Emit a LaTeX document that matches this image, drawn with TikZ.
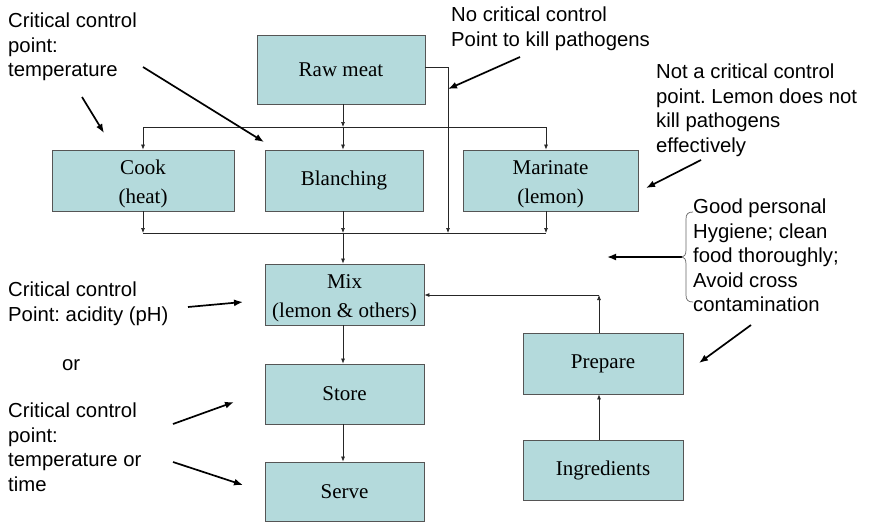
\documentclass[tikz,border=0pt]{standalone}
\usepackage{fontspec}
\setmainfont{Liberation Serif}
\newfontfamily\annfont{Liberation Sans}
\usetikzlibrary{arrows.meta}
\definecolor{boxfill}{RGB}{180,218,220}
\definecolor{boxline}{RGB}{85,85,85}
\frenchspacing
\newcommand{\topstrut}{\rule{0pt}{20.5pt}}
\begin{document}
\begin{tikzpicture}[x=1pt,y=-1pt,
  box/.style={draw=boxline,fill=boxfill,line width=0.8pt,inner sep=0pt,align=center,
    font=\fontsize{21}{29}\selectfont},
  conn/.style={draw=black!85,line width=0.7pt,-{Latex[length=5pt,width=4pt]}},
  plain/.style={draw=black!85,line width=0.7pt},
  ann/.style={draw=black,line width=1.7pt,-{Latex[length=9pt,width=7pt]}},
  note/.style={anchor=north west,inner sep=0pt,align=left,
    font=\annfont\fontsize{20.3}{24.5}\selectfont}]
\useasboundingbox (0,0) rectangle (872,523);
\fill[white] (0,0) rectangle (872,523);

% boxes
\node[box,minimum width=168pt,minimum height=69pt] (raw) at (341,69.5) {Raw meat};
\node[box,minimum width=182pt,minimum height=61pt] (cook) at (143,180.5) {\topstrut Cook\\(heat)};
\node[box,minimum width=158pt,minimum height=61pt] (blanch) at (344,180.5) {Blanching};
\node[box,minimum width=175pt,minimum height=61pt] (mar) at (550.5,180.5) {\topstrut Marinate\\(lemon)};
\node[box,minimum width=159pt,minimum height=61pt] (mix) at (344.5,294.5) {\topstrut Mix\\(lemon \& others)};
\node[box,minimum width=159pt,minimum height=60pt] (store) at (344.5,394) {Store};
\node[box,minimum width=159pt,minimum height=59pt] (serve) at (344.5,491.5) {Serve};
\node[box,minimum width=160pt,minimum height=61pt] (prep) at (603,363.5) {Prepare};
\node[box,minimum width=160pt,minimum height=60pt] (ingr) at (603,470) {Ingredients};

% junction coordinates
\coordinate (dsplit) at (343,127);
\coordinate (dleft) at (143,127);
\coordinate (dright) at (546,127);
\coordinate (bypass) at (448,67);
\coordinate (cjoin) at (343,233);
\coordinate (cleft) at (143,233);
\coordinate (cright) at (546,233);
\coordinate (cbypass) at (448,233);
\coordinate (pcorner) at (599,295);

% connectors top
\draw[conn] (raw.south -| dsplit) -- (dsplit);
\draw[plain] (dleft) -- (dright);
\draw[conn] (dleft) -- (cook.north -| dleft);
\draw[conn] (dsplit) -- (blanch.north -| dsplit);
\draw[conn] (dright) -- (mar.north -| dright);
\draw[plain] (raw.east |- bypass) -- (bypass);
\draw[conn] (bypass) -- (cbypass);
% connectors bottom
\draw[conn] (cook.south -| cleft) -- (cleft);
\draw[conn] (blanch.south -| cjoin) -- (cjoin);
\draw[conn] (mar.south -| cright) -- (cright);
\draw[plain] (cleft) -- (cright);
\draw[conn] (cjoin) -- (mix.north -| cjoin);
\draw[conn] (mix.south -| cjoin) -- (store.north -| cjoin);
\draw[conn] (store.south -| cjoin) -- (serve.north -| cjoin);
\draw[conn] (ingr.north -| pcorner) -- (prep.south -| pcorner);
\draw[conn] (prep.north -| pcorner) -- (pcorner);
\draw[conn] (pcorner) -- (mix.east |- pcorner);

% annotations
\node[note] (n1) at (8,13) {Critical control\\point:\\temperature};
\node[note] (n2) at (451,7) {No critical control\\Point to kill pathogens};
\node[note] (n3) at (656,64) {Not a critical control\\point. Lemon does not\\kill pathogens\\effectively};
\node[note] (n4) at (693,199) {Good personal\\Hygiene; clean\\food thoroughly;\\Avoid cross\\contamination};
\node[note] (n5) at (8,282) {Critical control\\Point: acidity (pH)};
\node[note] (n6) at (62,359) {or};
\node[note] (n7) at (8,403) {Critical control\\point:\\temperature or\\time};

% annotation arrows
\coordinate (a1s) at (82,97);   \coordinate (a1e) at (104,133);
\coordinate (a2s) at (143,67);  \coordinate (a2e) at (264,142);
\coordinate (a3s) at (520,57);  \coordinate (a3e) at (448,89);
\coordinate (a4s) at (701,160); \coordinate (a4e) at (646,188);
\coordinate (btip) at (682,257); \coordinate (a5e) at (607,257);
\coordinate (a6s) at (751,325); \coordinate (a6e) at (699,363);
\coordinate (a7s) at (188,307); \coordinate (a7e) at (243,302);
\coordinate (a8s) at (173,424); \coordinate (a8e) at (234,402);
\coordinate (a9s) at (173,462); \coordinate (a9e) at (243,485);
\draw[ann] (a1s) -- (a1e);
\draw[ann] (a2s) -- (a2e);
\draw[ann] (a3s) -- (a3e);
\draw[ann] (a4s) -- (a4e);
\draw[ann] (btip) -- (a5e);
\draw[ann] (a6s) -- (a6e);
\draw[ann] (a7s) -- (a7e);
\draw[ann] (a8s) -- (a8e);
\draw[ann] (a9s) -- (a9e);

% brace
\draw[black!60,line width=0.7pt] (693,212) .. controls (688,212) and (686,214) .. (686,219)
  -- (686,250) .. controls (686,255) and (684,257) .. (btip)
  .. controls (684,257) and (686,259) .. (686,264)
  -- (686,295) .. controls (686,300) and (688,302) .. (693,302);
\end{tikzpicture}
\end{document}
